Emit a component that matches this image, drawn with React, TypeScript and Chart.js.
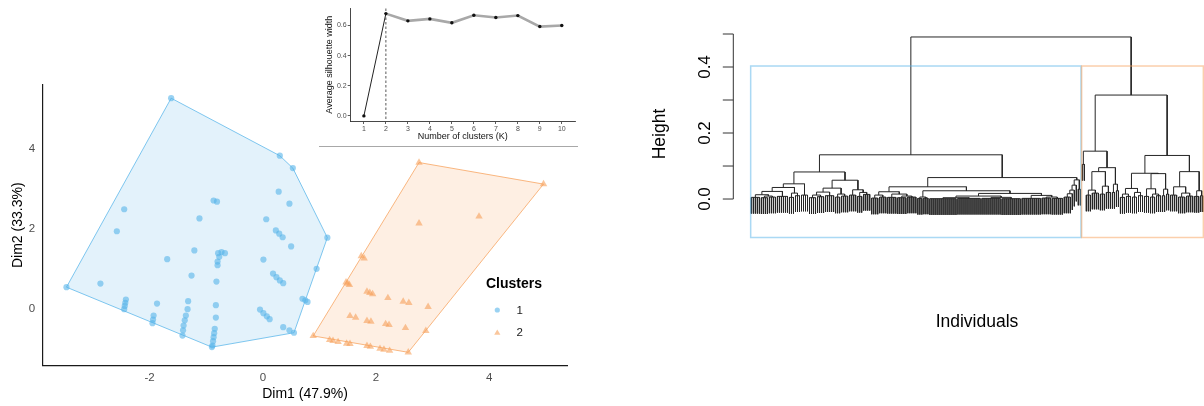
import React, { useEffect, useRef } from "react";
import { Chart, registerables } from "chart.js";

Chart.register(...registerables);

const FONT = "'Liberation Sans', Arial, Helvetica, sans-serif";

// ---------------- Cluster plot (left) ----------------
const CLUSTER_LABELS = ["1", "2"];
const LEGEND_TITLE = "Clusters";
const DIM1_TITLE = "Dim1 (47.9%)";
const DIM2_TITLE = "Dim2 (33.3%)";
const DIM1_TICKS = [-2, 0, 2, 4];
const DIM2_TICKS = [0, 2, 4];

const C1_X = [-1.62, 0.30, 0.53, 0.28, 0.47, -0.87, -0.81, -2.45, -2.58, -1.12, 0.06, 0.23, 0.29, 0.35, 0.50, 1.14, -1.21, -1.69, -0.79, -0.73, -0.67, -0.77, -0.80, -0.80, 0.01, 0.95, 0.18, 0.24, 0.30, 0.36, -1.26, -0.82, -2.87, -3.47, 0.70, 0.75, 0.79, -2.42, -2.43, -2.44, -2.45, -1.87, -1.32, -0.83, -1.33, -0.05, 0.01, 0.07, 0.12, -1.93, -1.94, -1.95, -1.36, -1.38, -1.40, -1.41, -1.42, -0.83, -0.85, -0.86, -0.87, -0.88, -0.89, -0.90, 0.36, 0.47, 0.55];
const C1_Y = [5.26, 3.82, 3.51, 2.92, 2.62, 2.70, 2.67, 2.48, 1.93, 2.25, 2.23, 1.95, 1.87, 1.78, 1.55, 1.77, 1.45, 1.23, 1.38, 1.41, 1.38, 1.29, 1.17, 1.08, 1.22, 0.99, 0.87, 0.78, 0.70, 0.63, 0.82, 0.67, 0.62, 0.53, 0.24, 0.20, 0.16, 0.22, 0.14, 0.06, -0.02, 0.12, 0.18, 0.08, -0.02, -0.03, -0.12, -0.20, -0.27, -0.18, -0.28, -0.37, -0.18, -0.30, -0.43, -0.55, -0.68, -0.23, -0.51, -0.62, -0.72, -0.82, -0.93, -0.97, -0.47, -0.55, -0.61];
const C2_X = [2.76, 4.96, 3.82, 2.76, 1.74, 1.79, 1.47, 1.50, 1.53, 1.84, 1.89, 1.94, 2.21, 2.48, 2.58, 2.92, 1.54, 1.64, 1.84, 1.91, 2.17, 2.23, 2.52, 2.88, 0.89, 1.18, 1.24, 1.33, 1.48, 1.54, 1.84, 1.90, 2.07, 2.14, 2.24, 2.57];
const C2_Y = [3.65, 3.11, 2.30, 2.13, 1.31, 1.25, 0.65, 0.62, 0.59, 0.42, 0.39, 0.36, 0.26, 0.17, 0.14, 0.04, -0.19, -0.23, -0.31, -0.33, -0.39, -0.41, -0.49, -0.56, -0.69, -0.79, -0.81, -0.84, -0.88, -0.89, -0.94, -0.96, -1.01, -1.03, -1.06, -1.10];
const HULL1_X = [-1.62, 0.30, 0.53, 1.14, 0.55, -0.90, -3.47];
const HULL1_Y = [5.26, 3.82, 3.51, 1.77, -0.61, -0.97, 0.53];
const HULL2_X = [2.76, 4.96, 2.57, 0.89];
const HULL2_Y = [3.65, 3.11, -1.10, -0.69];

// ---------------- Silhouette inset ----------------
const K_VALUES = [1, 2, 3, 4, 5, 6, 7, 8, 9, 10];
const SILHOUETTE = [0.0, 0.679, 0.631, 0.644, 0.618, 0.668, 0.653, 0.666, 0.593, 0.6];
const SIL_TICKS = [0, 0.2, 0.4, 0.6];
const BEST_K = 2;
const SIL_X_TITLE = "Number of clusters (K)";
const SIL_Y_TITLE = "Average silhouette width";

// ---------------- Dendrogram (right) ----------------
// leaf = 0, bundle of n leaves merged at h = [n, h], node = [h, left, right]
const DENDRO_TICKS = [0, 0.1, 0.2, 0.3, 0.4, 0.5];
const DENDRO_TICK_LABELS = ["0.0", "", "0.2", "", "0.4", ""];
const DENDRO_Y_TITLE = "Height";
const DENDRO_X_TITLE = "Individuals";
const ROOT_HEIGHT = 0.491;
const BLUE_HEIGHT = 0.134;
const BLUE_B_HEIGHT = 0.065;
const ORANGE_HEIGHT = 0.315;

const TREE_A = [0.082,
  [0.046,
    [0.035,
      [0.023, [0.013, [5, 0.005], [0.009, [4, 0.004], [4, 0.006]]], [6, 0.008]],
      [0.018, [3, 0.005], [3, 0.010]]],
    [4, 0.012]],
  [0.057,
    [0.033,
      [0.021, [0.012, [4, 0.004], [4, 0.007]], [5, 0.010]],
      [0.015, [3, 0.006], [4, 0.009]]],
    [0.028, [4, 0.012], [0.020, [3, 0.008], [4, 0.014]]]]];
const TREE_B1 = [0.037,
  [0.022, [0.012, [4, 0.003], [4, 0.006]], [0.015, [5, 0.005], [0.009, [5, 0.004], [5, 0.006]]]],
  [0.025,
    [0.006, [3, 0.002], [3, 0.003]],
    [0.017,
      [0.009, [0.004, [14, 0.001], [12, 0.002]], [0.005, [10, 0.002], [10, 0.001]]],
      [0.011, [10, 0.002], [0.006, [5, 0.003], [6, 0.002]]]]]];
const TREE_B2 = [0.058, [0.042, [0.027, [0.016, [4, 0.006], 0], 0], 0], [2, 0.030]];
const TREE_O1 = [0.145,
  [2, 0.105],
  [0.095,
    [0.083, [0.027, [3, 0.012], [4, 0.018]], [0.039, [3, 0.015], [3, 0.020]]],
    [0.045, [2, 0.020], [2, 0.025]]]];
const TREE_O2 = [0.132,
  [0.078,
    [0.032, [0.015, [3, 0.005], [3, 0.008]], [0.020, [3, 0.006], [3, 0.010]]],
    [0.077, [0.031, [3, 0.008], [0.015, [3, 0.006], [3, 0.010]]], [0.030, [2, 0.010], [2, 0.015]]]],
  [0.083,
    [0.037, [4, 0.012], [0.018, [4, 0.006], [4, 0.009]]],
    [0.025, [3, 0.008], [2, 0.010]]]];

const BLUE_TREE = [BLUE_HEIGHT, TREE_A, [BLUE_B_HEIGHT, TREE_B1, TREE_B2]];
const ORANGE_TREE = [ORANGE_HEIGHT, TREE_O1, TREE_O2];

// ---------------- colours ----------------
const COL_PT = ["rgba(86,180,233,0.6)", "rgba(247,160,90,0.6)"];
const COL_FILL = ["rgba(86,180,233,0.17)", "rgba(247,160,90,0.17)"];
const COL_LINE = ["rgba(86,180,233,0.75)", "rgba(247,160,90,0.75)"];
const COL_RECT = ["rgba(86,180,233,0.5)", "rgba(247,160,90,0.5)"];

const zip = (xs: number[], ys: number[]) => xs.map((x, i) => ({ x, y: ys[i] }));
const closed = (xs: number[], ys: number[]) => [...zip(xs, ys), { x: xs[0], y: ys[0] }];

function countLeaves(t: any): number {
  if (typeof t === "number") return 1;
  if (t.length === 2) return t[0];
  return countLeaves(t[1]) + countLeaves(t[2]);
}

function buildDendro(root: any, hang: number) {
  const pts: { x: number; y: number }[] = [];
  let next = 1;
  const gap = () => pts.push({ x: NaN, y: NaN });
  const walk = (t: any): { x: number; top: number | null } => {
    if (typeof t === "number") {
      const x = next++;
      return { x, top: null };
    }
    if (t.length === 2) {
      const [n, h] = t;
      const first = next;
      next += n;
      const last = next - 1;
      for (let i = first; i <= last; i++) {
        pts.push({ x: i, y: h }, { x: i, y: h - hang });
        gap();
      }
      pts.push({ x: first, y: h }, { x: last, y: h });
      gap();
      return { x: (first + last) / 2, top: h };
    }
    const [h, l, r] = t;
    const L = walk(l);
    const R = walk(r);
    pts.push(
      { x: L.x, y: L.top ?? h - hang },
      { x: L.x, y: h },
      { x: R.x, y: h },
      { x: R.x, y: R.top ?? h - hang }
    );
    gap();
    return { x: (L.x + R.x) / 2, top: h };
  };
  walk(root);
  return pts;
}

// ---------------- Scatter cluster chart ----------------
function ClusterPlot() {
  const ref = useRef<HTMLCanvasElement>(null);
  useEffect(() => {
    const legendPlugin = {
      id: "clusterLegend",
      afterDraw(chart: any) {
        const ctx = chart.ctx;
        ctx.save();
        ctx.textBaseline = "middle";
        ctx.textAlign = "left";
        ctx.fillStyle = "#000";
        ctx.font = `bold 14px ${FONT}`;
        ctx.fillText(LEGEND_TITLE, 486, 284.5);
        CLUSTER_LABELS.forEach((lab, i) => {
          const cy = 310 + i * 22.5;
          const cx = 497.3;
          ctx.fillStyle = COL_PT[i];
          ctx.beginPath();
          if (i === 0) {
            ctx.arc(cx, cy, 2.6, 0, Math.PI * 2);
          } else {
            const r = 3.6;
            for (let k = 0; k < 3; k++) {
              const a = (k * 2 * Math.PI) / 3;
              const px = cx + Math.sin(a) * r;
              const py = cy + 0.5 - Math.cos(a) * r;
              if (k === 0) ctx.moveTo(px, py);
              else ctx.lineTo(px, py);
            }
            ctx.closePath();
          }
          ctx.fill();
          ctx.fillStyle = "#1a1a1a";
          ctx.font = `11.5px ${FONT}`;
          ctx.fillText(lab, 516.5, cy + 0.5);
        });
        ctx.restore();
      },
    };
    const chart = new Chart(ref.current!, {
      type: "scatter",
      data: {
        datasets: [
          {
            label: CLUSTER_LABELS[0],
            data: zip(C1_X, C1_Y),
            pointStyle: "circle",
            pointRadius: 3.1,
            backgroundColor: COL_PT[0],
            borderWidth: 0,
            order: 0,
          },
          {
            label: CLUSTER_LABELS[1],
            data: zip(C2_X, C2_Y),
            pointStyle: "triangle",
            pointRadius: 4.3,
            backgroundColor: COL_PT[1],
            borderWidth: 0,
            order: 0,
          },
          {
            label: "hull1",
            data: closed(HULL1_X, HULL1_Y),
            showLine: true,
            fill: "shape",
            backgroundColor: COL_FILL[0],
            borderColor: COL_LINE[0],
            borderWidth: 1,
            pointRadius: 0,
            order: 1,
          },
          {
            label: "hull2",
            data: closed(HULL2_X, HULL2_Y),
            showLine: true,
            fill: "shape",
            backgroundColor: COL_FILL[1],
            borderColor: COL_LINE[1],
            borderWidth: 1,
            pointRadius: 0,
            order: 1,
          },
        ] as any,
      },
      options: {
        responsive: false,
        animation: false,
        devicePixelRatio: 1,
        events: [],
        layout: { padding: { left: 0, right: 32.7, top: 85, bottom: 0 } },
        plugins: { legend: { display: false }, tooltip: { enabled: false } },
        scales: {
          x: {
            type: "linear",
            min: -3.89,
            max: 5.38,
            afterBuildTicks: (s: any) => {
              s.ticks = DIM1_TICKS.map((v) => ({ value: v }));
            },
            afterFit: (s: any) => {
              s.height = 40.5;
            },
            grid: { display: false, drawTicks: false },
            border: { display: true, color: "#1a1a1a", width: 1.2 },
            ticks: {
              font: { family: FONT, size: 11.5 },
              color: "#4d4d4d",
              padding: 5,
              callback: (v: any) => String(v),
            },
            title: {
              display: true,
              text: DIM1_TITLE,
              font: { family: FONT, size: 14 },
              color: "#000",
              padding: { top: 0, bottom: 3 },
            },
          },
          y: {
            type: "linear",
            min: -1.43,
            max: 5.59,
            afterBuildTicks: (s: any) => {
              s.ticks = DIM2_TICKS.map((v) => ({ value: v }));
            },
            afterFit: (s: any) => {
              s.width = 42.7;
            },
            grid: { display: false, drawTicks: false },
            border: { display: true, color: "#1a1a1a", width: 1.2 },
            ticks: {
              font: { family: FONT, size: 11.5 },
              color: "#4d4d4d",
              padding: 7.5,
              callback: (v: any) => String(v),
            },
            title: {
              display: true,
              text: DIM2_TITLE,
              font: { family: FONT, size: 14 },
              color: "#000",
              padding: { top: 10, bottom: 0 },
            },
          },
        },
      } as any,
      plugins: [legendPlugin],
    });
    return () => chart.destroy();
  }, []);
  return (
    <canvas
      ref={ref}
      width={600}
      height={406}
      style={{ position: "absolute", left: 0, top: 0, width: 600, height: 406 }}
    />
  );
}

// ---------------- Silhouette inset ----------------
function SilhouetteInset() {
  const ref = useRef<HTMLCanvasElement>(null);
  useEffect(() => {
    const decor = {
      id: "silDecor",
      beforeDatasetsDraw(chart: any) {
        const { ctx, chartArea, scales } = chart;
        const x = scales.x.getPixelForValue(BEST_K);
        ctx.save();
        ctx.strokeStyle = "#444";
        ctx.lineWidth = 0.9;
        ctx.setLineDash([2.5, 2]);
        ctx.beginPath();
        ctx.moveTo(x, chartArea.top);
        ctx.lineTo(x, chartArea.bottom);
        ctx.stroke();
        ctx.restore();
      },
      afterDraw(chart: any) {
        const ctx = chart.ctx;
        ctx.save();
        ctx.strokeStyle = "#a8a8a8";
        ctx.lineWidth = 1;
        ctx.beginPath();
        ctx.moveTo(9, 146.5);
        ctx.lineTo(268, 146.5);
        ctx.stroke();
        ctx.restore();
      },
    };
    const chart = new Chart(ref.current!, {
      type: "scatter",
      data: {
        datasets: [
          {
            data: zip(K_VALUES, SILHOUETTE),
            showLine: true,
            borderColor: "#a8a8a8",
            borderWidth: 2.6,
            pointRadius: 1.7,
            pointBackgroundColor: "#111",
            pointBorderWidth: 0,
            segment: {
              borderColor: (c: any) => (c.p0DataIndex === 0 ? "#222" : undefined),
              borderWidth: (c: any) => (c.p0DataIndex === 0 ? 1 : undefined),
            },
          },
        ] as any,
      },
      options: {
        responsive: false,
        animation: false,
        devicePixelRatio: 1,
        events: [],
        layout: { padding: { left: 0, right: 5, top: 8.5, bottom: 0 } },
        plugins: { legend: { display: false }, tooltip: { enabled: false } },
        scales: {
          x: {
            type: "linear",
            min: 0.4,
            max: 10.6,
            afterBuildTicks: (s: any) => {
              s.ticks = K_VALUES.map((v) => ({ value: v }));
            },
            afterFit: (s: any) => {
              s.height = 29;
            },
            grid: { display: true, drawOnChartArea: false, drawTicks: true, tickLength: 3, color: "#333", lineWidth: 0.8 },
            border: { display: true, color: "#333", width: 0.9 },
            ticks: { font: { family: FONT, size: 7 }, color: "#4d4d4d", padding: 1, callback: (v: any) => String(v) },
            title: {
              display: true,
              text: SIL_X_TITLE,
              font: { family: FONT, size: 9 },
              color: "#111",
              padding: { top: 0, bottom: 8 },
            },
          },
          y: {
            type: "linear",
            min: -0.034,
            max: 0.713,
            afterBuildTicks: (s: any) => {
              s.ticks = SIL_TICKS.map((v) => ({ value: v }));
            },
            afterFit: (s: any) => {
              s.width = 40.7;
            },
            grid: { display: true, drawOnChartArea: false, drawTicks: true, tickLength: 3, color: "#333", lineWidth: 0.8 },
            border: { display: true, color: "#333", width: 0.9 },
            ticks: { font: { family: FONT, size: 7 }, color: "#4d4d4d", padding: 1, callback: (v: any) => Number(v).toFixed(1) },
            title: {
              display: true,
              text: SIL_Y_TITLE,
              font: { family: FONT, size: 9 },
              color: "#111",
              padding: { top: 14.6, bottom: 0 },
            },
          },
        },
      } as any,
      plugins: [decor],
    });
    return () => chart.destroy();
  }, []);
  return (
    <canvas
      ref={ref}
      width={270}
      height={150}
      style={{ position: "absolute", left: 310, top: 0, width: 270, height: 150 }}
    />
  );
}

// ---------------- Dendrogram ----------------
function Dendrogram() {
  const ref = useRef<HTMLCanvasElement>(null);
  useEffect(() => {
    const hang = 0.1 * ROOT_HEIGHT;
    const tree = [ROOT_HEIGHT, BLUE_TREE, ORANGE_TREE];
    const pts = buildDendro(tree, hang);
    const sizes = [countLeaves(BLUE_TREE), countLeaves(ORANGE_TREE)];
    const rectTop = (ROOT_HEIGHT + ORANGE_HEIGHT) / 2;
    const decor = {
      id: "dendroDecor",
      afterDatasetsDraw(chart: any) {
        const { ctx, chartArea, scales } = chart;
        const xs = scales.x;
        const ys = scales.y;
        ctx.save();
        // cluster rectangles
        const top = ys.getPixelForValue(rectTop);
        let start = 1;
        sizes.forEach((n, i) => {
          const x0 = xs.getPixelForValue(start - 0.34);
          const x1 = xs.getPixelForValue(start + n - 1 + 0.33);
          ctx.strokeStyle = COL_RECT[i];
          ctx.lineWidth = 1.5;
          ctx.strokeRect(x0, top, x1 - x0, chartArea.bottom - 0.8 - top);
          start += n;
        });
        // y axis
        const ax = chartArea.left;
        ctx.strokeStyle = "#333";
        ctx.lineWidth = 1;
        ctx.beginPath();
        ctx.moveTo(ax, ys.getPixelForValue(DENDRO_TICKS[0]));
        ctx.lineTo(ax, ys.getPixelForValue(DENDRO_TICKS[DENDRO_TICKS.length - 1]));
        DENDRO_TICKS.forEach((t) => {
          const py = ys.getPixelForValue(t);
          ctx.moveTo(ax, py);
          ctx.lineTo(ax - 10.5, py);
        });
        ctx.stroke();
        ctx.fillStyle = "#000";
        ctx.textAlign = "center";
        ctx.textBaseline = "middle";
        ctx.font = `17px ${FONT}`;
        DENDRO_TICKS.forEach((t, i) => {
          const lab = DENDRO_TICK_LABELS[i];
          if (!lab) return;
          ctx.save();
          ctx.translate(105, ys.getPixelForValue(t));
          ctx.rotate(-Math.PI / 2);
          ctx.fillText(lab, 0, 0);
          ctx.restore();
        });
        ctx.font = `17.5px ${FONT}`;
        ctx.save();
        ctx.translate(60, 134);
        ctx.rotate(-Math.PI / 2);
        ctx.fillText(DENDRO_Y_TITLE, 0, 0);
        ctx.restore();
        ctx.fillText(DENDRO_X_TITLE, 377, 322);
        ctx.restore();
      },
    };
    const chart = new Chart(ref.current!, {
      type: "scatter",
      data: {
        datasets: [
          {
            data: pts,
            showLine: true,
            spanGaps: false,
            borderColor: "#262626",
            borderWidth: 1,
            pointRadius: 0,
          },
        ] as any,
      },
      options: {
        responsive: false,
        animation: false,
        devicePixelRatio: 1,
        events: [],
        layout: { padding: { left: 133.3, right: 0, top: 34, bottom: 167.7 } },
        plugins: { legend: { display: false }, tooltip: { enabled: false } },
        scales: {
          x: { type: "linear", display: false, min: -8, max: 226.65 },
          y: { type: "linear", display: false, min: -0.119, max: 0.5 },
        },
      } as any,
      plugins: [decor],
    });
    return () => chart.destroy();
  }, []);
  return (
    <canvas
      ref={ref}
      width={604}
      height={406}
      style={{ position: "absolute", left: 600, top: 0, width: 604, height: 406 }}
    />
  );
}

export default function App() {
  return (
    <div
      style={{
        position: "absolute",
        left: 0,
        top: 0,
        width: 1204,
        height: 406,
        background: "#fff",
        overflow: "hidden",
      }}
    >
      <ClusterPlot />
      <SilhouetteInset />
      <Dendrogram />
    </div>
  );
}
